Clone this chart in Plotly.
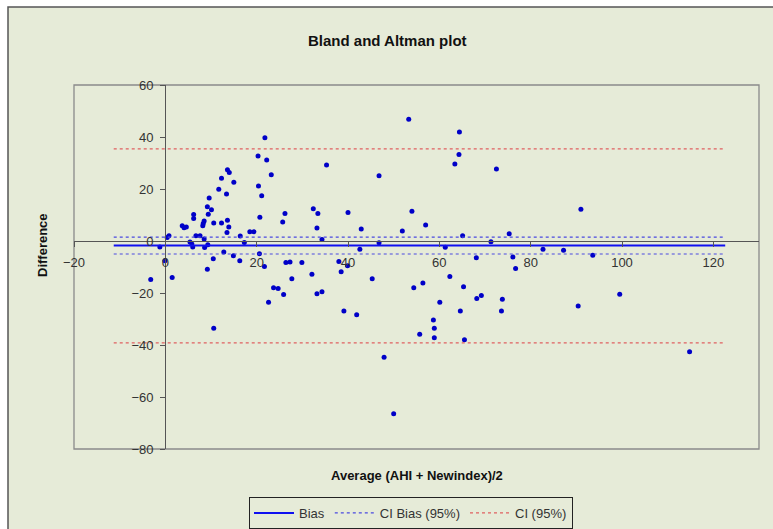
import plotly.graph_objects as go

# ---- data ----
avg_x = [-3.2, -1.2, -0.1, 0.4, 0.8, 1.5, 3.7, 4.1, 4.6, 5.4, 5.8, 6.0, 6.2, 6.2, 6.7, 7.6,
         8.2, 8.3, 8.5, 8.5, 8.6, 9.3, 9.2, 9.4, 9.6, 10.1, 9.2, 10.5, 10.6, 10.6, 11.7, 12.3,
         12.3, 12.8, 13.4, 13.5, 13.6, 13.6, 13.9, 14.0, 14.9, 15.0, 16.3, 16.4, 17.3, 18.5,
         19.4, 20.3, 20.4, 20.6, 20.7, 21.1, 21.7, 21.8, 22.2, 22.6, 23.2, 23.7, 24.7, 25.7,
         25.9, 26.2, 26.4, 27.3, 27.7, 29.9, 32.1, 32.4, 33.2, 33.2, 33.4, 34.3, 34.3, 35.3,
         38.0, 38.5, 39.1, 39.9, 40.0, 41.9, 42.6, 42.9, 45.3, 46.8, 46.8, 47.9, 50.0, 51.9,
         53.3, 54.0, 54.4, 55.7, 56.4, 57.0, 58.7, 58.9, 58.9, 60.1, 61.3, 62.3, 63.4, 64.3,
         64.4, 64.6, 65.1, 65.3, 65.5, 68.1, 68.2, 69.2, 71.3, 72.5, 73.6, 73.8, 75.3, 76.1,
         76.7, 82.7, 87.2, 90.4, 91.0, 93.6, 99.5, 114.8]
diff_y = [-14.8, -2.3, -7.6, 1.3, 2.0, -14.0, 5.9, 5.1, 5.4, -0.4, -1.2, -2.3, 10.2, 8.7, 2.0, 2.0,
          5.9, 6.7, 7.7, 0.8, -2.5, -1.4, 13.2, 10.3, 16.5, 12.0, -10.9, -6.8, 6.9, -33.6, 19.9, 24.1,
          6.9, -4.2, 18.1, 3.3, 27.4, 8.0, 5.4, 26.3, -5.7, 22.6, -7.6, 1.9, -0.6, 3.6,
          3.6, 32.7, 21.2, -4.9, 9.1, 17.4, -9.8, 39.7, 31.2, -23.6, 25.5, -18.0, -18.3, 7.3,
          -20.6, 10.6, -8.3, -8.1, -14.5, -8.3, -12.8, 12.4, 5.0, -20.3, 10.6, 0.6, -19.5, 29.2,
          -7.9, -11.8, -26.9, -9.5, 11.0, -28.4, -3.2, 4.6, -14.5, 25.1, -0.7, -44.7, -66.4, 3.8,
          46.8, 11.4, -18.0, -35.9, -16.2, 6.2, -30.4, -33.6, -37.2, -23.6, -2.4, -13.7, 29.6, 33.3,
          41.9, -26.9, 2.0, -17.6, -38.0, -6.4, -22.1, -21.0, -0.3, 27.7, -26.9, -22.4, 2.8, -6.2,
          -10.6, -3.2, -3.6, -25.0, 12.2, -5.5, -20.5, -42.6]

bias = -1.7
ci_bias = [1.5, -5.0]
ci = [35.4, -39.2]
line_x_range = [-11.3, 122.6]

x_ticks = [-20, 0, 20, 40, 60, 80, 100, 120]
y_ticks = [60, 40, 20, 0, -20, -40, -60, -80]
x_range = [-20, 130]
y_range = [-80, 60]

title_text = "Bland and Altman plot"
x_title = "Average (AHI + Newindex)/2"
y_title = "Difference"

FONT = "Liberation Sans, Arial, sans-serif"
BG = "#E6EBD8"

fig = go.Figure()

# scatter points
fig.add_trace(go.Scatter(x=avg_x, y=diff_y, mode="markers", showlegend=False,
                         marker=dict(color="#0000C8", size=5, line=dict(width=0)),
                         hoverinfo="x+y"))

# bias line
fig.add_trace(go.Scatter(x=line_x_range, y=[bias, bias], mode="lines", name="Bias",
                         line=dict(color="#1010F0", width=2)))
# CI bias lines
fig.add_trace(go.Scatter(x=line_x_range, y=[ci_bias[0]] * 2, mode="lines", name="CI Bias (95%)",
                         line=dict(color="#4A4AE0", width=1.2, dash="dot"), legendgroup="cib"))
fig.add_trace(go.Scatter(x=line_x_range, y=[ci_bias[1]] * 2, mode="lines", showlegend=False,
                         line=dict(color="#4A4AE0", width=1.2, dash="dot"), legendgroup="cib"))
# CI lines
fig.add_trace(go.Scatter(x=line_x_range, y=[ci[0]] * 2, mode="lines", name="CI (95%)",
                         line=dict(color="#E06060", width=1.2, dash="dot"), legendgroup="ci"))
fig.add_trace(go.Scatter(x=line_x_range, y=[ci[1]] * 2, mode="lines", showlegend=False,
                         line=dict(color="#E06060", width=1.2, dash="dot"), legendgroup="ci"))

W, H = 773, 529
L, R, T, B = 74, 14, 85, 80
pw, ph = W - L - R, H - T - B


def px_to_paper_x(px):
    return (px - L) / pw


def px_to_paper_y(py):
    return (H - B - py) / ph


axis_common = dict(showgrid=False, zeroline=False, showline=True, linecolor="#555555",
                   linewidth=1.3, ticks="outside", ticklen=5, tickcolor="#555555",
                   tickfont=dict(family=FONT, size=13, color="#333333"))

fig.update_layout(
    width=W, height=H,
    margin=dict(l=L, r=R, t=T, b=B, autoexpand=False),
    paper_bgcolor="white",
    plot_bgcolor="rgba(0,0,0,0)",
    font=dict(family=FONT),
    xaxis=dict(range=x_range, tickvals=x_ticks, anchor="free", ticklabelstandoff=4,
               position=(0 - y_range[0]) / (y_range[1] - y_range[0]), **axis_common),
    yaxis=dict(range=y_range, tickvals=y_ticks, anchor="free", ticklabelstandoff=4,
               position=(0 - x_range[0]) / (x_range[1] - x_range[0]), **axis_common),
    showlegend=True,
    legend=dict(orientation="h", x=px_to_paper_x(411), xanchor="center",
                y=px_to_paper_y(513), yanchor="middle",
                bgcolor=BG, bordercolor="#222222", borderwidth=1,
                font=dict(family=FONT, size=13, color="#333333"),
                itemwidth=40, tracegroupgap=0, itemclick=False),
    shapes=[
        # chart area
        dict(type="rect", xref="paper", yref="paper", layer="below",
             x0=px_to_paper_x(8), x1=px_to_paper_x(800),
             y0=px_to_paper_y(560), y1=px_to_paper_y(7),
             fillcolor=BG, line=dict(color="#555555", width=1.5)),
        # plot area frame
        dict(type="rect", xref="paper", yref="paper", layer="below",
             x0=0, x1=1, y0=0, y1=1, line=dict(color="#8A8A8A", width=1.3)),
    ],
    annotations=[
        dict(text=f"<b>{title_text}</b>", xref="paper", yref="paper",
             x=px_to_paper_x(387), y=px_to_paper_y(40), xanchor="center", yanchor="middle",
             showarrow=False, font=dict(family=FONT, size=15, color="#111111")),
        dict(text=f"<b>{x_title}</b>", xref="paper", yref="paper",
             x=px_to_paper_x(417), y=px_to_paper_y(475), xanchor="center", yanchor="middle",
             showarrow=False, font=dict(family=FONT, size=13, color="#111111")),
        dict(text=f"<b>{y_title}</b>", xref="paper", yref="paper", textangle=-90,
             x=px_to_paper_x(42), y=px_to_paper_y(245), xanchor="center", yanchor="middle",
             showarrow=False, font=dict(family=FONT, size=13, color="#111111")),
    ],
)

fig.write_html("out.html", config={"displayModeBar": False},
               post_script="document.body.style.margin='0';document.body.style.padding='0';")
